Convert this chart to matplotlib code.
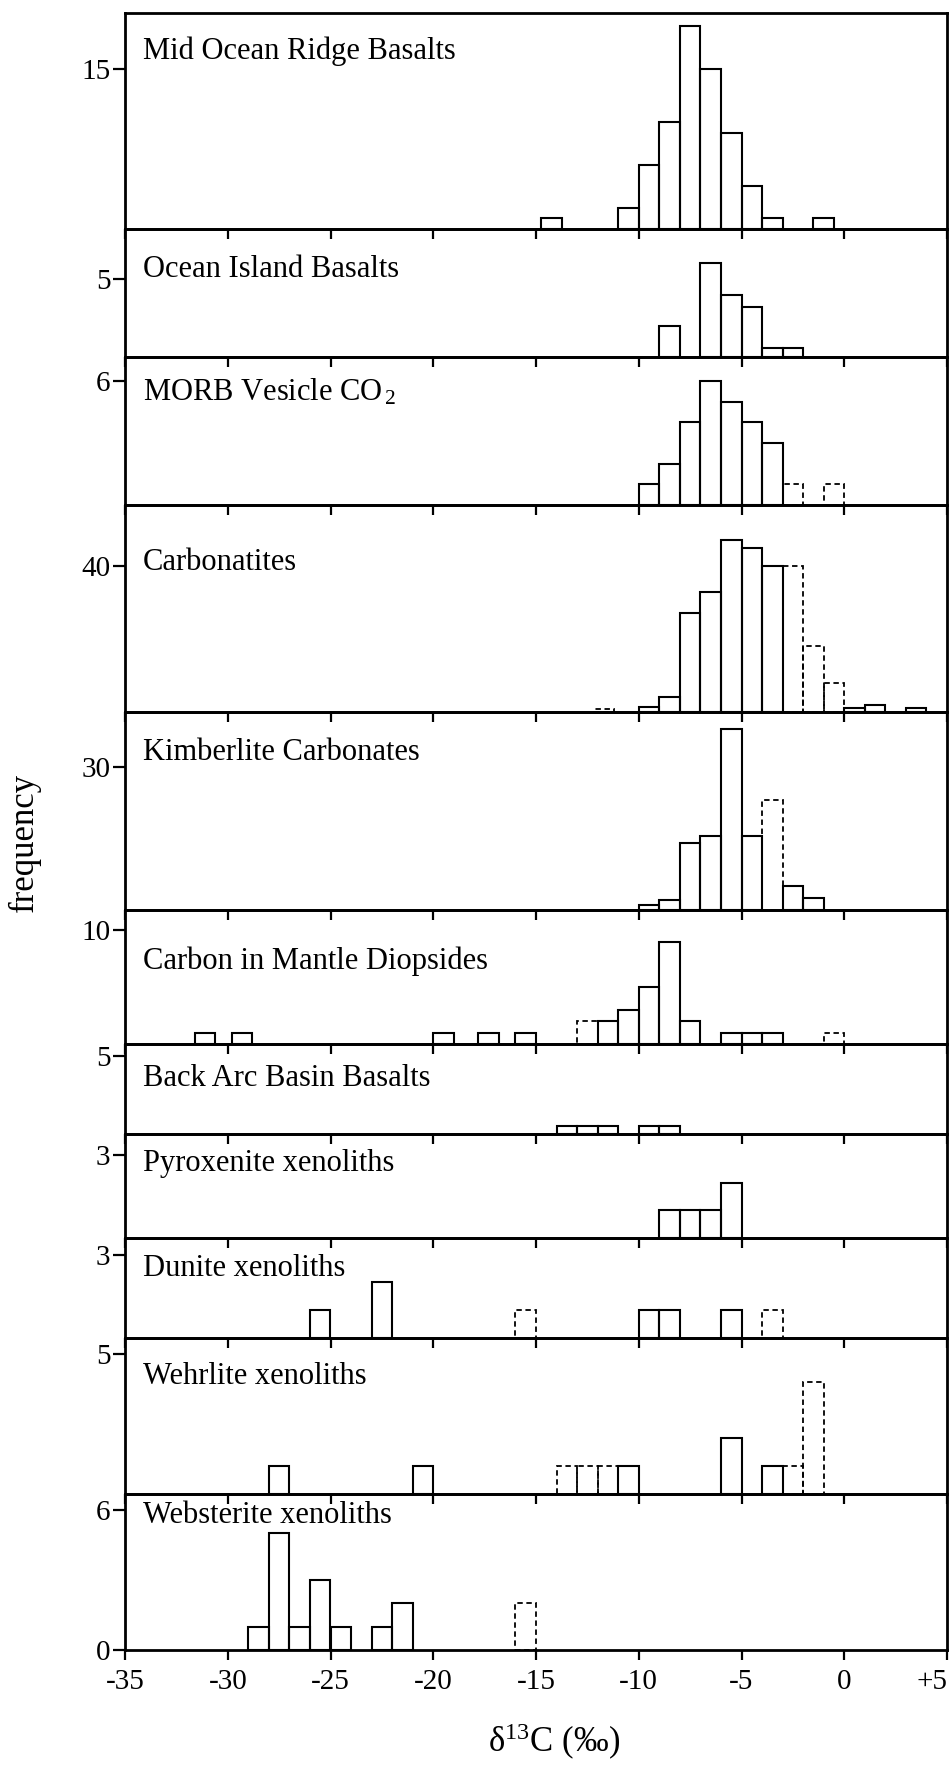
import matplotlib
matplotlib.use("Agg")
import matplotlib.pyplot as plt

plt.rcParams['font.family'] = ['Liberation Serif', 'DejaVu Serif']
plt.rcParams['mathtext.fontset'] = 'custom'
plt.rcParams['mathtext.rm'] = 'Liberation Serif'
plt.rcParams['mathtext.it'] = 'Liberation Serif:italic'

# ---- data: left bin edge (per mil) and frequency for every panel ----
names = ["Mid Ocean Ridge Basalts", "Ocean Island Basalts",
         r"MORB Vesicle CO$_{\,\mathrm{2}}$", "Carbonatites",
         "Kimberlite Carbonates", "Carbon in Mantle Diopsides",
         "Back Arc Basin Basalts", "Pyroxenite xenoliths",
         "Dunite xenoliths", "Wehrlite xenoliths", "Websterite xenoliths"]

morb_edges = [-14.75, -11, -10, -9, -8, -7, -6, -5, -4, -1.5]
morb_counts = [1, 2, 6, 10, 19, 15, 9, 4, 1, 1]

oib_edges = [-9, -7, -6, -5, -4, -3]
oib_counts = [2, 6, 4, 3.2, 0.6, 0.6]

vesicle_edges = [-10, -9, -8, -7, -6, -5, -4, -3, -1]
vesicle_counts = [1, 2, 4, 6, 5, 4, 3, 1, 1]

carbonatite_edges = [-12.2, -10, -9, -8, -7, -6, -5, -4, -3, -2, -1, 0, 1, 3]
carbonatite_counts = [0.7, 1.3, 4, 27, 33, 47, 45, 40, 40, 18, 8, 1, 2, 1]

kimberlite_edges = [-10, -9, -8, -7, -6, -5, -4, -3, -2]
kimberlite_counts = [1, 2, 14, 15.5, 38, 15.5, 23, 5, 2.5]

diopside_edges = [-31.6, -29.8, -20, -17.8, -16, -13, -12, -11, -10, -9, -8,
                  -6, -5, -4, -1]
diopside_counts = [1, 1, 1, 1, 1, 2, 2, 3, 5, 9, 2, 1, 1, 1, 1]

bab_edges = [-14, -13, -12, -10, -9]
bab_counts = [0.5, 0.5, 0.5, 0.5, 0.5]

pyroxenite_edges = [-9, -8, -7, -6]
pyroxenite_counts = [1, 1, 1, 2]

dunite_edges = [-26, -23, -16, -10, -9, -6, -4]
dunite_counts = [1, 2, 1, 1, 1, 1, 1]

wehrlite_edges = [-28, -21, -14, -13, -12, -11, -6, -4, -3, -2]
wehrlite_counts = [1, 1, 1, 1, 1, 1, 2, 1, 1, 4]

websterite_edges = [-29, -28, -27, -26, -25, -23, -22, -16]
websterite_counts = [1, 5, 1, 3, 1, 1, 2, 2]

# bins whose outline is printed broken
morb_dashed = []
oib_dashed = []
vesicle_dashed = [-3, -1]
carbonatite_dashed = [-12.2, -3, -2, -1]
kimberlite_dashed = [-4]
diopside_dashed = [-13, -1]
bab_dashed = []
pyroxenite_dashed = []
dunite_dashed = [-16, -4]
wehrlite_dashed = [-14, -13, -12, -3, -2]
websterite_dashed = [-16]

yticks = [[15], [5], [6], [40], [30], [10], [5], [3], [3], [5], [0, 6]]
ymax = [20.2, 8.2, 7.15, 56.7, 41.5, 11.8, 5.8, 3.75, 3.6, 5.57, 6.69]

xticks = [-35, -30, -25, -20, -15, -10, -5, 0, 5]
xticklabels = ["-35", "-30", "-25", "-20", "-15", "-10", "-5", "0", "+5"]

panels = [
    (morb_edges, morb_counts, morb_dashed),
    (oib_edges, oib_counts, oib_dashed),
    (vesicle_edges, vesicle_counts, vesicle_dashed),
    (carbonatite_edges, carbonatite_counts, carbonatite_dashed),
    (kimberlite_edges, kimberlite_counts, kimberlite_dashed),
    (diopside_edges, diopside_counts, diopside_dashed),
    (bab_edges, bab_counts, bab_dashed),
    (pyroxenite_edges, pyroxenite_counts, pyroxenite_dashed),
    (dunite_edges, dunite_counts, dunite_dashed),
    (wehrlite_edges, wehrlite_counts, wehrlite_dashed),
    (websterite_edges, websterite_counts, websterite_dashed),
]

# panel heights (px) and distance of the title from the panel top (px)
heights = [216, 128, 148, 207, 198, 134, 90, 104, 100, 156, 156]
title_drop = [38, 41, 35, 58, 41, 51, 35, 30, 31, 39, 22]

W, H = 951, 1766
fig = plt.figure(figsize=(W / 100, H / 100), dpi=100)
gs = fig.add_gridspec(len(panels), 1, height_ratios=heights, hspace=0,
                      left=125 / W, right=947 / W,
                      top=1 - 13 / H, bottom=1 - 1650 / H)

for i, (edges, counts, dashed) in enumerate(panels):
    ax = fig.add_subplot(gs[i])
    ax.patch.set_visible(False)

    solid_e = [e for e in edges if e not in dashed]
    solid_c = [c for e, c in zip(edges, counts) if e not in dashed]
    dash_e = [e for e in edges if e in dashed]
    dash_c = [c for e, c in zip(edges, counts) if e in dashed]

    ax.bar(dash_e, dash_c, width=1, align='edge', facecolor='none',
           edgecolor='black', linewidth=1.3, linestyle=(0, (3, 2)))
    ax.bar(solid_e, solid_c, width=1, align='edge', facecolor='none',
           edgecolor='black', linewidth=1.5)

    ax.set_xlim(-35, 5)
    ax.set_ylim(0, ymax[i])
    ax.set_xticks(xticks)
    ax.set_yticks(yticks[i])
    ax.set_yticklabels([str(v) for v in yticks[i]])
    if i == len(panels) - 1:
        ax.set_xticklabels(xticklabels)
        # keep "+5" inside the figure edge
        ax.get_xticklabels()[-1].set_horizontalalignment('right')
    else:
        ax.set_xticklabels([])

    for s in ax.spines.values():
        s.set_linewidth(2)
    ax.tick_params(axis='x', direction='out', length=7, width=1.6,
                   labelsize=21, pad=7)
    ax.tick_params(axis='y', direction='out', length=8.5, width=1.6,
                   labelsize=21, pad=2)

    ax.annotate(names[i], xy=(0, 1), xycoords='axes fraction',
                xytext=(18, -title_drop[i]), textcoords='offset pixels',
                ha='left', va='center', fontsize=22)

fig.text(24 / W, 1 - 842 / H, "frequency", rotation=90, ha='center',
         va='center', fontsize=25)
fig.text(554 / W, 1 - 1742 / H, r"δ$^{\mathrm{13}}$C (‰)", ha='center',
         va='center', fontsize=25)

fig.savefig("out.png", dpi=100)
